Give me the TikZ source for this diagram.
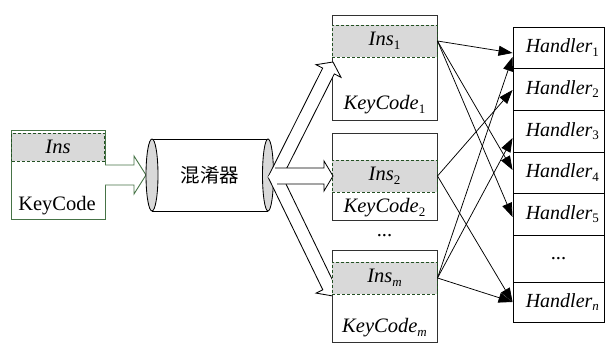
\documentclass[tikz,border=0pt]{standalone}
\usepackage{fontspec}
\setmainfont{Liberation Serif}
\newfontfamily\cjk{Noto Sans CJK SC}
\usetikzlibrary{arrows.meta,calc}
\definecolor{boxgreen}{RGB}{70,115,70}
\definecolor{dashgreen}{RGB}{35,80,35}
\definecolor{bandgray}{RGB}{217,217,217}
\definecolor{boxline}{RGB}{50,50,50}
\newcommand\sbx[1]{\raisebox{-3.5pt}{\fontsize{13}{13}\selectfont #1}}
\begin{document}
\begin{tikzpicture}[x=1pt,y=-1pt,font=\fontsize{20.5}{23}\selectfont,
  plainbox/.style={draw=boxline,fill=white,line width=0.9pt,inner sep=0pt,minimum width=105pt},
  srcbox/.style={draw=boxgreen,fill=white,line width=0.9pt,inner sep=0pt},
  band/.style={draw=dashgreen,dashed,dash pattern=on 3pt off 2pt,fill=bandgray,line width=1pt,inner sep=0pt,minimum width=105pt,minimum height=32pt},
  lbl/.style={inner sep=0pt},
  hcell/.style={draw=black,fill=white,line width=0.9pt,inner sep=0pt,minimum width=91pt},
  htext/.style={anchor=west,inner sep=0pt,font=\fontsize{20}{22}\selectfont},
  link/.style={-{Triangle[length=14pt,width=10pt]},line width=0.75pt},
  hollow/.style={draw=black,line width=0.85pt},
  hollowfill/.style={fill=white},
  greenarrow/.style={draw=boxgreen,line width=0.9pt}]
\useasboundingbox (0,0) rectangle (606,343);

% source box
\node[srcbox,minimum width=94pt,minimum height=89pt] (src) at (58,174.5) {};
\node[band,minimum width=93pt,minimum height=28pt] (srcins) at (58,147) {\textit{Ins}};
\node[lbl] (srckey) at (57,206) {KeyCode};

% green hollow arrow to mixer
\fill[hollowfill] (105,165) -- (134,165) -- (134,156) -- (146,175) -- (134,194) -- (134,185) -- (105,185) -- cycle;
\draw[greenarrow] (105,165) -- (134,165) -- (134,156) -- (146,175) -- (134,194) -- (134,185) -- (105,185);

% mixer cylinder
\fill[white] (152,139) rectangle (268,211);
\draw[line width=0.85pt] (152,139) -- (268,139);
\draw[line width=0.85pt] (152,211) -- (268,211);
\draw[line width=0.85pt,fill=bandgray] (152,175) ellipse [x radius=6, y radius=36];
\draw[line width=0.85pt,fill=bandgray] (268,175) ellipse [x radius=5.5, y radius=36];
\node[lbl,font=\cjk\fontsize{19.5}{19.5}\selectfont] (mixer) at (210,175) {混淆器};

% lower hollow arrow (behind box 3)
\fill[hollowfill] (268,177) -- (322.8,289.8) -- (316.05,293.1) -- (333,296) -- (341.25,280.9) -- (334.5,284.2) -- (282.6,177) -- cycle;
\draw[hollow] (268,177) -- (322.8,289.8) -- (316.05,293.1) -- (333,296) -- (341.25,280.9) -- (334.5,284.2) -- (282.6,177);

% instance boxes
\node[plainbox,minimum height=105pt] (box1) at (384.5,67.5) {};
\node[band] (ins1) at (384.5,41) {\textit{Ins}\sbx{1}};
\node[lbl] (key1) at (384.5,105) {\textit{KeyCode}\sbx{1}};

\node[plainbox,minimum height=87pt] (box2) at (384.5,176.5) {};
\node[band] (ins2) at (384.5,176) {\textit{Ins}\sbx{2}};
\node[lbl] (key2) at (384.5,208) {\textit{KeyCode}\sbx{2}};

\node[lbl] (vdots) at (384.5,236) {...};

\node[plainbox,minimum height=92pt] (box3) at (384.5,296) {};
\node[band] (ins3) at (384.5,278) {\textit{Ins}\sbx{\textit{m}}};
\node[lbl] (key3) at (384.5,328) {\textit{KeyCode}\sbx{\textit{m}}};

% upper hollow arrow
\fill[hollowfill] (268,177) -- (322.7,68.1) -- (316.0,64.7) -- (333,62) -- (341.0,77.3) -- (334.3,73.9) -- (282.3,177) -- cycle;
\draw[hollow] (268,177) -- (322.7,68.1) -- (316.0,64.7) -- (333,62) -- (341.0,77.3) -- (334.3,73.9) -- (282.3,177);

% middle hollow arrow
\fill[hollowfill] (268,177) -- (275,168) -- (324,168) -- (324,161) -- (333,176) -- (324,191) -- (324,184) -- (277,184) -- cycle;
\draw[hollow] (275,168) -- (324,168) -- (324,161) -- (333,176) -- (324,191) -- (324,184) -- (277,184);

% handlers
\node[hcell,minimum height=41pt] (h1) at (558.5,47.5) {};
\node[hcell,minimum height=42pt] (h2) at (558.5,89) {};
\node[hcell,minimum height=42pt] (h3) at (558.5,131) {};
\node[hcell,minimum height=41pt] (h4) at (558.5,172.5) {};
\node[hcell,minimum height=42pt] (h5) at (558.5,214) {};
\node[hcell,minimum height=47pt] (hd) at (558.5,258.5) {};
\node[hcell,minimum height=40pt] (hn) at (558.5,302) {};
\node[htext] at ($(h1.west)+(13pt,0)$) {\textit{Handler}\sbx{1}};
\node[htext] at ($(h2.west)+(13pt,0)$) {\textit{Handler}\sbx{2}};
\node[htext] at ($(h3.west)+(13pt,0)$) {\textit{Handler}\sbx{3}};
\node[htext] at ($(h4.west)+(13pt,0)$) {\textit{Handler}\sbx{4}};
\node[htext] at ($(h5.west)+(13pt,0)$) {\textit{Handler}\sbx{5}};
\node[lbl] at (hd.center) {...};
\node[htext] at ($(hn.west)+(13pt,0)$) {\textit{Handler}\sbx{\textit{n}}};

% connectors
\draw[link] (ins1.east) -- ([yshift=-5.5pt]h1.west);
\draw[link] (ins1.east) -- ([yshift=2.5pt]h4.west);
\draw[link] (ins1.east) -- ([yshift=-3pt]h5.west);
\draw[link] (ins2.east) -- ([yshift=-1pt]h2.west);
\draw[link] (ins2.east) -- (hn.west);
\draw[link] (ins3.east) -- ([yshift=-9.5pt]h1.west);
\draw[link] (ins3.east) -- ([yshift=-7pt]h3.west);
\draw[link] (ins3.east) -- (hn.west);
\end{tikzpicture}
\end{document}
